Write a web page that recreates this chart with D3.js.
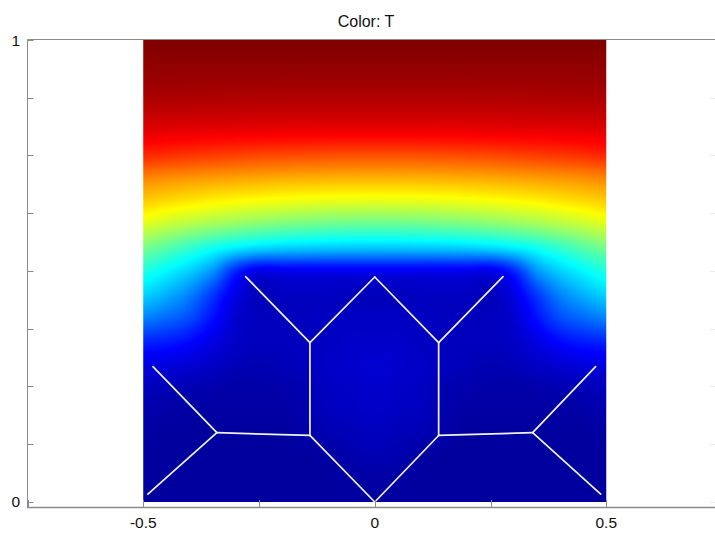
<!DOCTYPE html>
<html>
<head>
<meta charset="utf-8">
<script src="https://cdn.jsdelivr.net/npm/d3@7"></script>
<style>
  body { margin: 0; background: #fff; }
  svg { display: block; font-family: "Liberation Sans", Arial, sans-serif; }
</style>
</head>
<body>
<div id="chart"></div>
<script>
// Sample positions of the temperature field (x across, y from top row down)
const gridX = [-0.5, -0.45, -0.4, -0.35, -0.3, -0.25, -0.2, -0.15, -0.1, -0.05, 0,
               0.05, 0.1, 0.15, 0.2, 0.25, 0.3, 0.35, 0.4, 0.45, 0.5];
const gridY = [1, 0.95, 0.9, 0.85, 0.8, 0.75, 0.7, 0.65, 0.6, 0.55, 0.5,
               0.45, 0.4, 0.35, 0.3, 0.25, 0.2, 0.15, 0.1, 0.05, 0];

// Normalised temperature T (0 = coldest, 1 = hottest), one row per gridY value
const T = [
  [1,1,1,1,1,1,1,1,1,1,1,1,1,1,1,1,1,1,1,1,1],
  [.985,.985,.985,.985,.985,.985,.985,.985,.985,.985,.985,.985,.985,.985,.985,.985,.985,.985,.985,.985,.985],
  [.97,.969,.968,.967,.966,.966,.965,.965,.965,.965,.965,.965,.965,.965,.965,.966,.966,.967,.968,.969,.97],
  [.942,.94,.939,.938,.937,.936,.936,.935,.935,.935,.935,.935,.935,.935,.936,.936,.937,.938,.939,.94,.942],
  [.898,.895,.893,.891,.889,.888,.887,.886,.885,.885,.885,.885,.885,.886,.887,.888,.889,.891,.893,.895,.898],
  [.837,.829,.822,.816,.811,.806,.803,.800,.798,.796,.796,.796,.798,.800,.803,.806,.811,.816,.822,.829,.837],
  [.743,.734,.727,.720,.714,.709,.705,.702,.700,.698,.698,.698,.700,.702,.705,.709,.714,.720,.727,.734,.743],
  [.672,.658,.645,.633,.623,.615,.608,.603,.599,.597,.596,.597,.599,.603,.608,.615,.623,.633,.645,.658,.672],
  [.590,.567,.547,.529,.514,.501,.490,.482,.476,.472,.471,.472,.476,.482,.490,.501,.514,.529,.547,.567,.590],
  [.49,.46,.425,.39,.36,.34,.33,.325,.322,.32,.32,.32,.322,.325,.33,.34,.36,.39,.425,.46,.49],
  [.405,.37,.33,.27,.16,.105,.11,.11,.11,.11,.11,.11,.11,.11,.11,.105,.16,.27,.33,.37,.405],
  [.335,.3,.255,.18,.1,.06,.065,.065,.065,.06,.06,.06,.065,.065,.065,.06,.1,.18,.255,.3,.335],
  [.255,.23,.2,.14,.08,.06,.06,.06,.065,.065,.065,.065,.065,.06,.06,.06,.08,.14,.2,.23,.255],
  [.165,.155,.135,.1,.07,.06,.06,.06,.065,.07,.07,.07,.065,.06,.06,.06,.07,.1,.135,.155,.165],
  [.1,.095,.085,.07,.055,.05,.055,.06,.07,.075,.08,.075,.07,.06,.055,.05,.055,.07,.085,.095,.1],
  [.06,.055,.05,.045,.04,.04,.045,.05,.065,.07,.075,.07,.065,.05,.045,.04,.04,.045,.05,.055,.06],
  [.045,.04,.035,.035,.035,.035,.035,.045,.06,.065,.07,.065,.06,.045,.035,.035,.035,.035,.035,.04,.045],
  [.035,.03,.03,.03,.03,.03,.03,.04,.05,.055,.06,.055,.05,.04,.03,.03,.03,.03,.03,.03,.035],
  [.03,.03,.03,.03,.03,.03,.03,.03,.035,.045,.05,.045,.035,.03,.03,.03,.03,.03,.03,.03,.03],
  [.03,.03,.03,.03,.03,.03,.03,.03,.03,.035,.035,.035,.03,.03,.03,.03,.03,.03,.03,.03,.03],
  [.03,.03,.03,.03,.03,.03,.03,.03,.03,.03,.03,.03,.03,.03,.03,.03,.03,.03,.03,.03,.03]
];

// Interior boundaries of the geometry: [x1, y1, x2, y2]
const boundaries = [
  [-0.490, 0.017, -0.341, 0.150],
  [-0.479, 0.293, -0.341, 0.150],
  [-0.341, 0.150, -0.140, 0.144],
  [-0.140, 0.144,  0.000, 0.000],
  [-0.140, 0.144, -0.140, 0.345],
  [-0.140, 0.345, -0.279, 0.488],
  [-0.140, 0.345,  0.000, 0.487],
  [ 0.000, 0.487,  0.138, 0.345],
  [ 0.138, 0.345,  0.277, 0.488],
  [ 0.138, 0.345,  0.138, 0.144],
  [ 0.138, 0.144,  0.000, 0.000],
  [ 0.138, 0.144,  0.341, 0.150],
  [ 0.341, 0.150,  0.477, 0.293],
  [ 0.341, 0.150,  0.488, 0.017]
];

const xTicks = [-0.75, -0.5, -0.25, 0, 0.25, 0.5, 0.75];
const xTickLabels = [[-0.5, "-0.5"], [0, "0"], [0.5, "0.5"]];
const yTicks = [0, 0.125, 0.25, 0.375, 0.5, 0.625, 0.75, 0.875, 1];
const yTickLabels = [[0, "0"], [1, "1"]];
const title = "Color: T";

const W = 715, H = 534;
const x = d3.scaleLinear().domain([-0.75, 0.75]).range([27.5, 722]);
const y = d3.scaleLinear().domain([-0.013, 1]).range([508, 40]);

// Jet colour map
const jet = d3.scaleLinear()
  .domain([0, 0.125, 0.375, 0.625, 0.875, 1])
  .range(["#000080", "#0000ff", "#00ffff", "#ffff00", "#ff0000", "#800000"])
  .clamp(true);
const LUT = d3.range(1024).map(i => d3.rgb(jet(i / 1023)));

const svg = d3.select("#chart").append("svg").attr("width", W).attr("height", H);

// Smooth (Catmull-Rom) sampling of the gridded field
const nR = gridY.length, nC = gridX.length;
const at = (r, c) => T[Math.max(0, Math.min(nR - 1, r))][Math.max(0, Math.min(nC - 1, c))];
function cr(p0, p1, p2, p3, t) {
  return 0.5 * (2 * p1 + (p2 - p0) * t + (2 * p0 - 5 * p1 + 4 * p2 - p3) * t * t
              + (3 * p1 - p0 - 3 * p2 + p3) * t * t * t);
}
const colIdx = d3.scaleLinear().domain([gridX[0], gridX[nC - 1]]).range([0, nC - 1]).clamp(true);
const rowIdx = d3.scaleLinear().domain([gridY[0], gridY[nR - 1]]).range([0, nR - 1]).clamp(true);
function sample(xv, yv) {
  const gx = colIdx(xv), gy = rowIdx(yv);
  const c = Math.min(Math.floor(gx), nC - 2), tx = gx - c;
  const r = Math.min(Math.floor(gy), nR - 2), ty = gy - r;
  const rows = [-1, 0, 1, 2].map(k => cr(at(r + k, c - 1), at(r + k, c), at(r + k, c + 1), at(r + k, c + 2), tx));
  return cr(rows[0], rows[1], rows[2], rows[3], ty);
}

// Rasterise the field
const fx0 = x(-0.5), fx1 = x(0.5), fy0 = y(1), fy1 = y(0);
const cw = Math.round(fx1 - fx0), ch = Math.round(fy1 - fy0);
const canvas = document.createElement("canvas");
canvas.width = cw; canvas.height = ch;
const ctx = canvas.getContext("2d");
const img = ctx.createImageData(cw, ch);
for (let j = 0; j < ch; j++) {
  const yv = y.invert(fy0 + (j + 0.5) * (fy1 - fy0) / ch);
  for (let i = 0; i < cw; i++) {
    const xv = x.invert(fx0 + (i + 0.5) * (fx1 - fx0) / cw);
    const v = sample(xv, yv);
    const col = LUT[Math.max(0, Math.min(1023, Math.round(v * 1023)))];
    const k = (j * cw + i) * 4;
    img.data[k] = col.r; img.data[k + 1] = col.g; img.data[k + 2] = col.b; img.data[k + 3] = 255;
  }
}
ctx.putImageData(img, 0, 0);

svg.append("image")
  .attr("x", fx0).attr("y", fy0)
  .attr("width", fx1 - fx0).attr("height", fy1 - fy0)
  .attr("preserveAspectRatio", "none")
  .attr("href", canvas.toDataURL());

// Boundary lines
svg.append("g").selectAll("line").data(boundaries).join("line")
  .attr("x1", d => x(d[0])).attr("y1", d => y(d[1]))
  .attr("x2", d => x(d[2])).attr("y2", d => y(d[3]))
  .attr("stroke", "#f2f2f2").attr("stroke-width", 1.7).attr("stroke-linecap", "round");

// Axes frame
const axisColor = "#8a8a8a";
const frame = svg.append("g").attr("fill", "none").attr("stroke", axisColor);
frame.append("line").attr("x1", x(-0.75)).attr("x2", x(0.75)).attr("y1", 39.5).attr("y2", 39.5);
frame.append("line").attr("x1", x(-0.75)).attr("x2", x(0.75)).attr("y1", 507.5).attr("y2", 507.5).attr("stroke-width", 1.5);
frame.append("line").attr("x1", x(-0.75)).attr("x2", x(-0.75)).attr("y1", 39.5).attr("y2", 508);

// Left ticks
svg.append("g").selectAll("line").data(yTicks).join("line")
  .attr("x1", x(-0.75)).attr("x2", x(-0.75) + 6)
  .attr("y1", d => Math.round(y(d)) + 0.5).attr("y2", d => Math.round(y(d)) + 0.5)
  .attr("stroke", axisColor);
// Right ticks (faint)
svg.append("g").selectAll("line").data(yTicks.slice(0, -1)).join("line")
  .attr("x1", x(0.75) - 12).attr("x2", x(0.75))
  .attr("y1", d => Math.round(y(d)) + 0.5).attr("y2", d => Math.round(y(d)) + 0.5)
  .attr("stroke", "#ececec");
// Bottom ticks
svg.append("g").selectAll("line").data(xTicks).join("line")
  .attr("x1", d => Math.round(x(d)) + 0.5).attr("x2", d => Math.round(x(d)) + 0.5)
  .attr("y1", 507).attr("y2", 500)
  .attr("stroke", axisColor);

// Tick labels
svg.append("g").selectAll("text").data(xTickLabels).join("text")
  .attr("x", d => x(d[0])).attr("y", 528)
  .attr("text-anchor", "middle").attr("font-size", 15.5).attr("fill", "#111")
  .text(d => d[1]);
svg.append("g").selectAll("text").data(yTickLabels).join("text")
  .attr("x", 20).attr("y", d => y(d[0]) + 5.5)
  .attr("text-anchor", "end").attr("font-size", 15.5).attr("fill", "#111")
  .text(d => d[1]);

// Title
svg.append("text").attr("x", 366).attr("y", 27)
  .attr("text-anchor", "middle").attr("font-size", 16).attr("fill", "#111")
  .text(title);
</script>
</body>
</html>
